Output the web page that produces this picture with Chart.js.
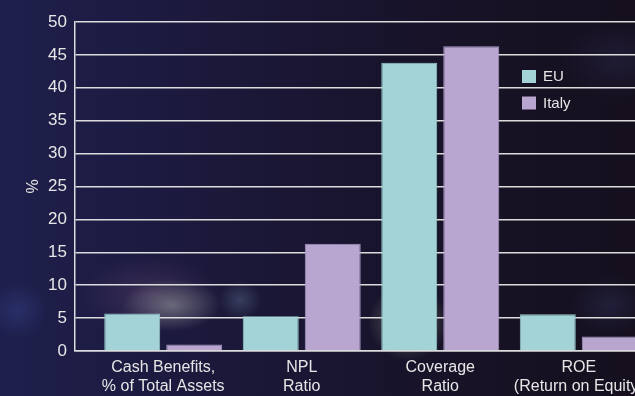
<!DOCTYPE html>
<html>
<head>
<meta charset="utf-8">
<script src="https://cdn.jsdelivr.net/npm/chart.js@4/dist/chart.umd.min.js"></script>
<style>
  html, body {
    margin: 0;
    padding: 0;
    width: 635px;
    height: 396px;
    overflow: hidden;
  }
  body {
    background:
      radial-gradient(ellipse 50px 26px at 172px 305px, rgba(175, 185, 180, 0.45), rgba(175, 185, 180, 0) 100%),
      radial-gradient(ellipse 70px 40px at 150px 295px, rgba(120, 80, 120, 0.35), rgba(120, 80, 120, 0) 100%),
      radial-gradient(ellipse 40px 38px at 408px 322px, rgba(150, 158, 140, 0.6), rgba(150, 158, 140, 0) 100%),
      radial-gradient(ellipse 22px 20px at 240px 300px, rgba(90, 110, 140, 0.45), rgba(90, 110, 140, 0) 100%),
      radial-gradient(ellipse 30px 28px at 18px 310px, rgba(60, 80, 160, 0.35), rgba(60, 80, 160, 0) 100%),
      radial-gradient(ellipse 40px 30px at 610px 305px, rgba(60, 70, 120, 0.3), rgba(60, 70, 120, 0) 100%),
      radial-gradient(ellipse 60px 40px at 620px 60px, rgba(50, 50, 90, 0.35), rgba(50, 50, 90, 0) 100%),
      linear-gradient(90deg, #1e1f4c 0%, #1c1b42 20%, #1a1634 45%, #171225 75%, #150f1e 100%);
  }
  #wrap {
    position: absolute;
    left: 0;
    top: 0;
    width: 680px;
    height: 396px;
  }
</style>
</head>
<body>
<div id="wrap"><canvas id="bankChart"></canvas></div>
<script>
const categories = [
  ["Cash Benefits,", "% of Total Assets"],
  ["NPL", "Ratio"],
  ["Coverage", "Ratio"],
  ["ROE", "(Return on Equity)"]
];
const euValues = [5.7, 5.3, 43.8, 5.6];
const italyValues = [1.0, 16.3, 46.3, 2.2];
const yTicks = [0, 5, 10, 15, 20, 25, 30, 35, 40, 45, 50];

const teal = "#a3d3d6";
const lavender = "#b8a6d1";
const lineColor = "#dcdcdc";
const textColor = "#e6e6e6";
const fontFamily = "'Liberation Sans', Arial, Helvetica, sans-serif";

// bars sit on a numeric x axis so the y axis can stand a little left of the first group
const toPoints = (values) => values.map((v, i) => ({ x: i, y: v }));

// small legend drawn inside the plot, upper right
const insideLegend = {
  id: "insideLegend",
  afterDatasetsDraw(chart) {
    const ctx = chart.ctx;
    ctx.save();
    ctx.font = "15px " + fontFamily;
    ctx.textBaseline = "middle";
    chart.data.datasets.forEach((ds, i) => {
      const y = 70 + i * 26.5;
      ctx.fillStyle = ds.backgroundColor;
      ctx.fillRect(522, y, 14, 13);
      ctx.fillStyle = textColor;
      ctx.fillText(ds.label, 543, y + 7);
    });
    ctx.restore();
  }
};

const ctx = document.getElementById("bankChart").getContext("2d");
new Chart(ctx, {
  type: "bar",
  data: {
    datasets: [
      {
        label: "EU",
        data: toPoints(euValues),
        backgroundColor: teal,
        borderColor: "#98c7ca",
        borderWidth: 1
      },
      {
        label: "Italy",
        data: toPoints(italyValues),
        backgroundColor: lavender,
        borderColor: "#a898c4",
        borderWidth: 1
      }
    ]
  },
  options: {
    responsive: true,
    maintainAspectRatio: false,
    animation: false,
    categoryPercentage: 0.895,
    barPercentage: 0.903,
    layout: {
      padding: { top: 22, right: 13, bottom: 0, left: 0 }
    },
    plugins: {
      legend: { display: false },
      tooltip: { enabled: false }
    },
    scales: {
      x: {
        type: "linear",
        offset: false,
        min: -0.637,
        max: 3.637,
        grid: { display: false, drawTicks: false, offset: false },
        border: { display: true, color: lineColor, width: 1.5 },
        afterBuildTicks: (scale) => {
          scale.ticks = categories.map((c, i) => ({ value: i }));
        },
        afterFit: (scale) => {
          scale.height = 45;
        },
        ticks: {
          autoSkip: false,
          maxRotation: 0,
          padding: 7,
          color: textColor,
          font: { family: fontFamily, size: 16, lineHeight: 1.2 },
          callback: (value) => categories[value]
        }
      },
      y: {
        min: 0,
        max: 50,
        afterBuildTicks: (scale) => {
          scale.ticks = yTicks.map((v) => ({ value: v }));
        },
        afterFit: (scale) => {
          scale.width = 75;
        },
        grid: {
          color: lineColor,
          lineWidth: 1.5,
          drawTicks: false
        },
        border: { display: true, color: lineColor, width: 1.5 },
        ticks: {
          padding: 8,
          color: textColor,
          font: { family: fontFamily, size: 17 }
        },
        title: {
          display: true,
          text: "%",
          color: textColor,
          padding: { top: 24, bottom: 0 },
          font: { family: fontFamily, size: 16 }
        }
      }
    }
  },
  plugins: [insideLegend]
});
</script>
</body>
</html>
